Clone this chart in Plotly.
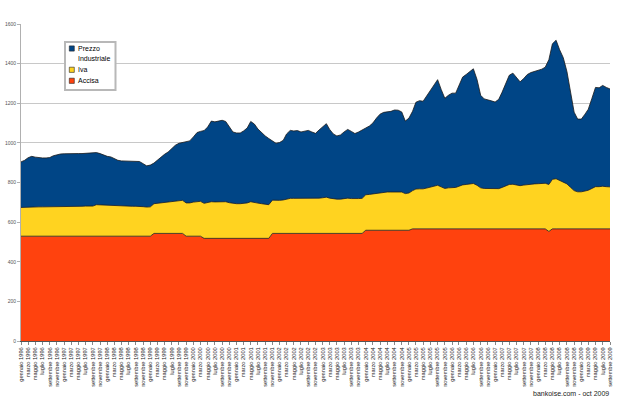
import pandas as pd
import plotly.graph_objects as go

mesi = ["gennaio", "febbraio", "marzo", "aprile", "maggio", "giugno",
        "luglio", "agosto", "settembre", "ottobre", "novembre", "dicembre"]

date = pd.date_range("1996-01-01", periods=165, freq="MS")

accisa = ([529] * 37 + [543] * 9 + [529] * 5 + [518] * 19 + [543] * 26 +
          [559] * 13 + [566] * 38 + [553] + [566] * 17)

iva = [145, 146, 148, 149, 148, 148, 148, 148, 148, 150,
       151, 151, 151, 151, 151, 151, 151, 151, 152, 152,
       152, 159, 158, 156, 155, 155, 153, 152, 152, 152,
       152, 151, 151, 151, 149, 147, 148, 150, 152, 155,
       157, 159, 162, 165, 166, 167, 168, 168, 172, 175,
       176, 177, 180, 185, 184, 185, 186, 185, 180, 176,
       175, 175, 177, 179, 185, 183, 178, 175, 173, 170,
       168, 166, 167, 169, 174, 177, 177, 177, 176, 176,
       177, 176, 175, 178, 180, 183, 178, 174, 173, 173,
       176, 178, 176, 175, 176, 177, 179, 181, 183, 188,
       191, 192, 193, 193, 194, 194, 193, 185, 188, 193,
       201, 202, 202, 206, 211, 216, 220, 212, 204, 207,
       209, 209, 215, 222, 224, 227, 229, 220, 207, 204,
       203, 202, 201, 203, 209, 217, 224, 225, 221, 218,
       221, 224, 226, 227, 228, 229, 230, 237, 250, 253,
       245, 238, 227, 210, 193, 187, 187, 191, 195, 204,
       213, 213, 215, 213, 212]

prezzo = [230, 237, 248, 254, 251, 247, 247, 247, 249, 256,
          261, 264, 265, 266, 264, 266, 266, 266, 267, 269,
          270, 263, 259, 253, 248, 245, 238, 231, 228, 228,
          228, 228, 228, 226, 217, 208, 211, 205, 217, 230,
          242, 252, 265, 280, 289, 292, 308, 313, 329, 348,
          353, 367, 382, 407, 404, 407, 410, 405, 382, 361,
          357, 357, 365, 378, 405, 394, 374, 359, 344, 334,
          297, 289, 292, 301, 328, 343, 340, 342, 336, 339,
          343, 336, 330, 344, 359, 371, 347, 328, 319, 324,
          336, 347, 339, 329, 336, 343, 337, 345, 358, 378,
          395, 403, 405, 407, 413, 412, 404, 366, 378, 401,
          438, 445, 442, 466, 488, 513, 533, 492, 455, 467,
          476, 476, 509, 544, 555, 567, 579, 534, 467, 452,
          449, 444, 439, 451, 480, 517, 551, 561, 541, 524,
          538, 555, 563, 567, 571, 577, 586, 630, 684, 699,
          659, 626, 567, 484, 396, 367, 367, 388, 409, 455,
          501, 499, 509, 501, 494]

serie_nomi = ["Prezzo Industriale", "Iva", "Accisa"]
serie_colori = ["#004586", "#ffd320", "#ff420e"]

tick_date = list(date[::2])
tick_testo = [f"{mesi[d.month - 1]} {d.year}" for d in tick_date]

W, H = 620, 400
ML, MR, MT, MB = 21, 10, 24, 59
PW, PH = W - ML - MR, H - MT - MB


def px(x):
    return (x - ML) / PW


def py(y):
    return (H - MB - y) / PH


linea = dict(color="#1a1a1a", width=0.8)
fig = go.Figure()
fig.add_trace(go.Scatter(x=date, y=accisa, name=serie_nomi[2], stackgroup="s",
                         mode="lines", line=linea, fillcolor=serie_colori[2]))
fig.add_trace(go.Scatter(x=date, y=iva, name=serie_nomi[1], stackgroup="s",
                         mode="lines", line=linea, fillcolor=serie_colori[1]))
fig.add_trace(go.Scatter(x=date, y=prezzo, name=serie_nomi[0], stackgroup="s",
                         mode="lines", line=linea, fillcolor=serie_colori[0]))

# compact legend box drawn like the original
shapes = [dict(type="rect", xref="paper", yref="paper",
               x0=px(65), x1=px(115.5), y0=py(90), y1=py(42),
               line=dict(color="#b8b8b8", width=2), fillcolor="white", layer="above")]
annotations = []
righe = [("Prezzo", 48.5, 0), ("Industriale", 59.0, None), ("Iva", 69.8, 1), ("Accisa", 80.8, 2)]
for testo, ty, idx in righe:
    if idx is not None:
        shapes.append(dict(type="rect", xref="paper", yref="paper",
                           x0=px(69.3), x1=px(74.3), y0=py(ty + 2.6), y1=py(ty - 2.6),
                           line=dict(color="#222", width=0.6),
                           fillcolor=serie_colori[idx], layer="above"))
    annotations.append(dict(text=f"<span style='color:#000000'>{testo}</span>",
                            xref="paper", yref="paper",
                            x=px(76.0), y=py(ty), xanchor="left", yanchor="middle",
                            align="left", showarrow=False,
                            font=dict(size=7, color="#000000")))

annotations.append(dict(text="bankoise.com - oct 2009", xref="paper", yref="paper",
                        x=px(611), y=py(393), xanchor="right", yanchor="middle",
                        showarrow=False, font=dict(size=7, color="#222")))

fig.update_layout(
    width=W, height=H,
    margin=dict(l=ML, r=MR, t=MT, b=MB),
    paper_bgcolor="white", plot_bgcolor="white",
    font=dict(family="Liberation Sans", size=6, color="#333"),
    showlegend=False,
    hovermode=False,
    xaxis=dict(range=[date[0], date[-1]], tickmode="array",
               tickvals=tick_date, ticktext=tick_testo, tickangle=-90,
               tickfont=dict(size=5.7, color="#222"), showgrid=False,
               showline=True, linecolor="#555", linewidth=1,
               ticks="outside", ticklen=3, tickcolor="#888", automargin=False),
    yaxis=dict(range=[0, 1600], dtick=200, tickformat="d",
               tickfont=dict(size=5, color="#555"), showgrid=True,
               gridcolor="#c8c8c8", gridwidth=1, zeroline=False,
               showline=True, linecolor="#b0b0b0", linewidth=1,
               ticks="outside", ticklen=3, tickcolor="#b0b0b0", automargin=False),
    shapes=shapes,
    annotations=annotations,
)

fig.write_html("out.html",
               config={"displayModeBar": False, "staticPlot": True},
               post_script="document.body.style.margin='0';document.body.style.padding='0';")
